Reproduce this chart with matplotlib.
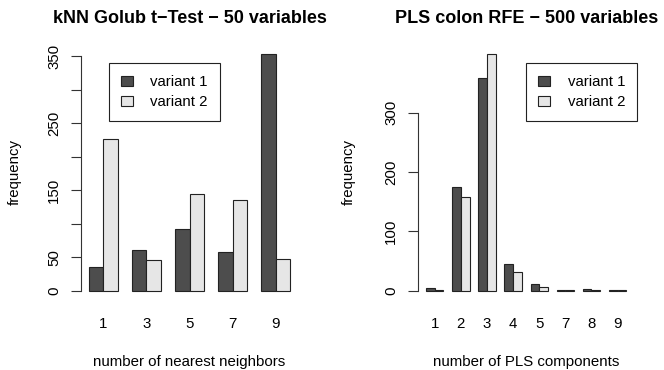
import matplotlib.pyplot as plt
import numpy as np

plt.rcParams['font.family'] = ['Liberation Sans', 'DejaVu Sans']

# kNN panel
knn_labels = ["1", "3", "5", "7", "9"]
knn_v1 = [36, 61, 92, 58, 353]
knn_v2 = [226, 46, 145, 135, 48]

# PLS panel
pls_labels = ["1", "2", "3", "4", "5", "7", "8", "9"]
pls_v1 = [5, 175, 358, 46, 11, 1, 3, 1]
pls_v2 = [1, 158, 399, 32, 6, 2, 1, 1]

series_names = ["variant 1", "variant 2"]
colors = ["#4D4D4D", "#E6E6E6"]

W, H = 664, 370
fig = plt.figure(figsize=(W / 100, H / 100), dpi=100)


def px_box(x0, x1, ytop, ybot):
    return [x0 / W, 1 - ybot / H, (x1 - x0) / W, (ybot - ytop) / H]


def r_barplot(ax, labels, v1, v2, yticks, ylabels, title, xlabel, leg_xy):
    n = len(labels)
    left = 1 + 3 * np.arange(n)  # R: beside=TRUE, space=c(0,1)
    ax.bar(left, v1, width=1, align='edge', color=colors[0], edgecolor='#222222',
           linewidth=0.8, label=series_names[0])
    ax.bar(left + 1, v2, width=1, align='edge', color=colors[1], edgecolor='#222222',
           linewidth=0.8, label=series_names[1])
    lo, hi = 1, 3 * n
    ext = 0.04 * (hi - lo)
    ax.set_xlim(lo - ext, hi + ext)
    ymax = max(max(v1), max(v2))
    ax.set_ylim(-0.04 * ymax, ymax * 1.04)

    for s in ['top', 'right', 'bottom']:
        ax.spines[s].set_visible(False)
    ax.spines['left'].set_bounds(yticks[0], yticks[-1])
    ax.spines['left'].set_color('#333333')
    ax.spines['left'].set_linewidth(0.8)

    ax.set_yticks(yticks)
    ax.set_yticklabels(ylabels, rotation=90, va='center')
    ax.tick_params(axis='y', length=7.2, width=0.8, color='#333333', pad=7, labelsize=10.8)
    ax.set_xticks(left + 1)
    ax.set_xticklabels(labels)
    ax.tick_params(axis='x', length=0, pad=12, labelsize=10.8)

    ax.set_title(title, fontsize=13, fontweight='bold', pad=15.5)
    ax.set_xlabel(xlabel, fontsize=10.8, va='baseline')
    ax.xaxis.set_label_coords(0.5, -(366 - 300.3) / 255.8)
    ax.set_ylabel("frequency", fontsize=10.8, va='center')

    ax.legend(loc='upper left', bbox_to_anchor=(leg_xy[0] / W, 1 - leg_xy[1] / H),
              bbox_transform=fig.transFigure, fontsize=10.8, frameon=True,
              fancybox=False, edgecolor='#222222', framealpha=1, borderpad=0.8,
              handlelength=0.8, handleheight=0.67, handletextpad=1.15,
              labelspacing=0.4, borderaxespad=0)
    ax.get_legend().get_frame().set_linewidth(0.8)


ax1 = fig.add_axes(px_box(81, 298, 44.5, 300.3))
r_barplot(ax1, knn_labels, knn_v1, knn_v2,
          [0, 50, 100, 150, 200, 250, 300, 350],
          ["0", "50", "", "150", "", "250", "", "350"],
          "kNN Golub t\u2212Test \u2212 50 variables", "number of nearest neighbors",
          (109, 63.3))
ax1.yaxis.set_label_coords(-(81 - 15) / 217, 0.5)

ax2 = fig.add_axes(px_box(418, 634.3, 44.5, 300.3))
r_barplot(ax2, pls_labels, pls_v1, pls_v2,
          [0, 100, 200, 300], ["0", "100", "200", "300"],
          "PLS colon RFE \u2212 500 variables", "number of PLS components",
          (526.3, 63.3))
ax2.yaxis.set_label_coords(-(418 - 349) / 216.3, 0.5)

plt.savefig("out.png", dpi=100)
